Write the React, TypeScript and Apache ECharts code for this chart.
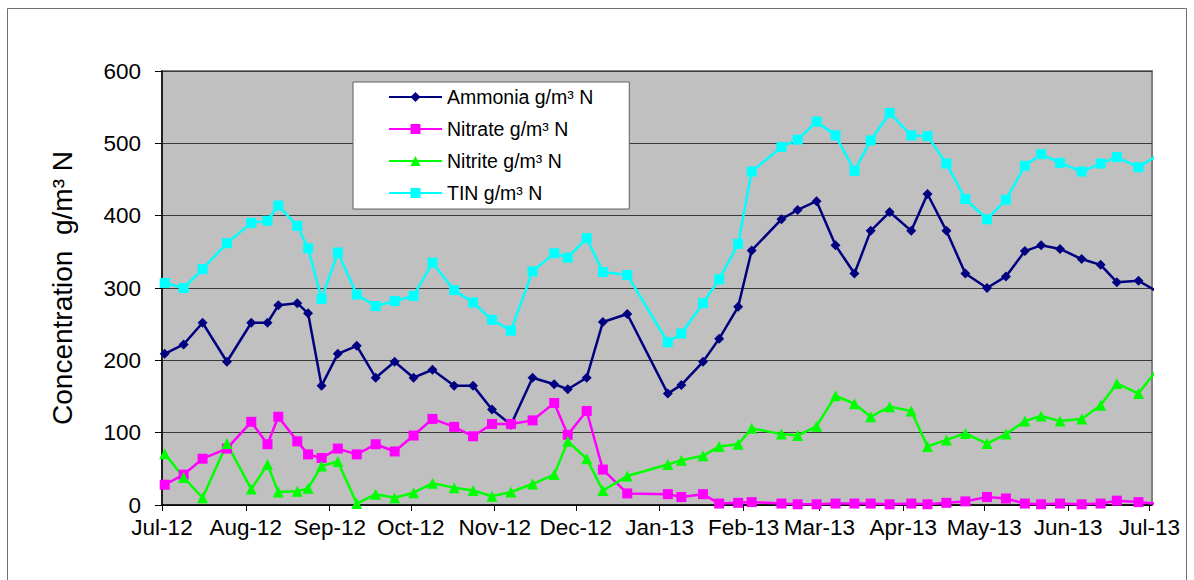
import React, { useEffect, useRef } from "react";
import * as echarts from "echarts";

const dates = [
  "2012-07-02", "2012-07-09", "2012-07-16", "2012-07-25", "2012-08-03", "2012-08-09", "2012-08-13",
  "2012-08-20", "2012-08-24", "2012-08-29", "2012-09-04", "2012-09-11", "2012-09-18", "2012-09-25",
  "2012-10-02", "2012-10-09", "2012-10-17", "2012-10-24", "2012-10-31", "2012-11-07", "2012-11-15",
  "2012-11-23", "2012-11-28", "2012-12-05", "2012-12-11", "2012-12-20", "2013-01-04", "2013-01-09",
  "2013-01-17", "2013-01-23", "2013-01-30", "2013-02-04", "2013-02-15", "2013-02-21", "2013-02-28",
  "2013-03-07", "2013-03-14", "2013-03-20", "2013-03-27", "2013-04-04", "2013-04-10", "2013-04-17",
  "2013-04-24", "2013-05-02", "2013-05-09", "2013-05-16", "2013-05-22", "2013-05-29", "2013-06-06",
  "2013-06-13", "2013-06-19", "2013-06-27", "2013-07-03",
];

const ammonia = [
  209, 222, 252, 198, 252, 252, 276, 279, 265, 165, 209, 220, 176, 198, 176, 187, 165, 165, 132,
  111, 176, 167, 160, 176, 253, 264, 154, 166, 198, 230, 274,
  352, 395, 408, 420, 359, 320, 379, 405, 379, 430, 379,
  320, 300, 316, 351, 359, 354, 340, 332, 308, 310, 297,
];

const nitrate = [
  28, 42, 64, 78, 115, 84, 122, 88, 70, 65, 78, 70, 84, 74, 96, 119, 108, 95, 112,
  112, 117, 141, 97, 130, 49, 16, 15, 11, 15, 2, 3,
  4, 2, 1, 1, 2, 2, 2, 1, 2, 1, 3,
  5, 11, 9, 2, 1, 2, 1, 2, 6, 4, 2,
];

const nitrite = [
  71, 38, 10, 85, 22, 56, 18, 19, 23, 54, 60, 2, 15, 10, 17, 30, 24, 20, 12,
  18, 29, 42, 88, 64, 20, 40, 56, 62, 68, 81, 84,
  106, 98, 96, 109, 151, 140, 122, 136, 130, 81, 90,
  99, 85, 98, 116, 123, 116, 119, 138, 168, 154, 183,
];

const tin = [
  307, 300, 326, 362, 390, 393, 414, 386, 355, 285, 349, 291, 275, 282, 289, 335, 297, 280, 256,
  241, 323, 348, 342, 369, 322, 318, 225, 237, 279, 312, 361,
  461, 495, 505, 530, 511, 462, 504, 542, 511, 510, 472,
  423, 395, 422, 469, 485, 473, 461, 472, 481, 467, 481,
];

const monthStarts = [
  "2012-07-01", "2012-08-01", "2012-09-01", "2012-10-01", "2012-11-01", "2012-12-01", "2013-01-01",
  "2013-02-01", "2013-03-01", "2013-04-01", "2013-05-01", "2013-06-01", "2013-07-01",
];
const monthLabels = [
  "Jul-12", "Aug-12", "Sep-12", "Oct-12", "Nov-12", "Dec-12", "Jan-13",
  "Feb-13", "Mar-13", "Apr-13", "May-13", "Jun-13", "Jul-13",
];
const axisStart = "2012-07-01";
const axisEnd = "2013-07-02";
const yTicks = [0, 100, 200, 300, 400, 500, 600];

const seriesNames = ["Ammonia g/m³ N", "Nitrate g/m³ N", "Nitrite g/m³ N", "TIN g/m³ N"];

function ts(s: string): number {
  const [y, m, d] = s.split("-").map(Number);
  return Date.UTC(y, m - 1, d);
}

const FONT = "'Liberation Sans', Arial, sans-serif";

export default function App() {
  const ref = useRef<HTMLDivElement>(null);
  useEffect(() => {
    if (!ref.current) return;
    const chart = echarts.init(ref.current, null, { renderer: "svg" });
    const monthTs = monthStarts.map(ts);
    const mk = (arr: number[]) => dates.map((d, i) => [ts(d), arr[i]]);
    const styles = [
      { color: "#000080", symbol: "diamond", size: 10 },
      { color: "#FF00FF", symbol: "rect", size: 10 },
      { color: "#00FF00", symbol: "triangle", size: 11 },
      { color: "#00FFFF", symbol: "rect", size: 10 },
    ];
    const values = [ammonia, nitrate, nitrite, tin];
    chart.setOption({
      animation: false,
      grid: {
        left: 162,
        top: 71,
        right: 42,
        bottom: 75,
        show: true,
        backgroundColor: "#C0C0C0",
        borderColor: "#808080",
        borderWidth: 2,
      },
      legend: {
        orient: "vertical",
        left: 353,
        top: 82,
        padding: [4, 36, 5, 35],
        itemWidth: 53,
        itemHeight: 12.5,
        itemGap: 10,
        backgroundColor: "#FFFFFF",
        borderColor: "#606060",
        borderWidth: 1,
        textStyle: { fontSize: 19.5, fontFamily: FONT, color: "#000", lineHeight: 22 },
        data: seriesNames,
      },
      xAxis: {
        type: "value",
        min: ts(axisStart),
        max: ts(axisEnd),
        axisLine: { show: true, onZero: false, lineStyle: { color: "#000", width: 1.5 } },
        axisTick: { show: true, customValues: monthTs, length: 6, lineStyle: { color: "#000", width: 1 } },
        axisLabel: {
          customValues: monthTs,
          formatter: (v: number) => {
            const i = monthTs.indexOf(v);
            return i >= 0 ? monthLabels[i] : "";
          },
          fontSize: 22.5,
          fontFamily: FONT,
          color: "#000",
          margin: 11,
        },
        splitLine: { show: false },
      },
      yAxis: {
        type: "value",
        min: yTicks[0],
        max: yTicks[yTicks.length - 1],
        interval: 100,
        axisLine: { show: true, lineStyle: { color: "#000", width: 1.5 } },
        axisTick: { show: true, length: 7, lineStyle: { color: "#000" } },
        axisLabel: { fontSize: 22.5, fontFamily: FONT, color: "#000", margin: 21 },
        splitLine: { show: true, lineStyle: { color: "#3a3a3a", width: 1 } },
      },
      series: seriesNames.map((name, k) => ({
        name,
        type: "line",
        data: mk(values[k]),
        symbol: styles[k].symbol,
        symbolSize: styles[k].size,
        showAllSymbol: true,
        clip: true,
        lineStyle: { color: styles[k].color, width: 2.5 },
        itemStyle: { color: styles[k].color },
        emphasis: { disabled: true },
      })),
      graphic: [
        {
          type: "rect",
          shape: { x: 7.5, y: 8.5, width: 1179, height: 620 },
          style: { fill: "none", stroke: "#707070", lineWidth: 1 },
          silent: true,
        },
        {
          type: "text",
          x: 62,
          y: 288,
          rotation: Math.PI / 2,
          style: {
            text: "Concentration  g/m³ N",
            font: `28px ${FONT}`,
            fill: "#000",
            textAlign: "center",
            textVerticalAlign: "middle",
          },
          silent: true,
        },
      ],
    });
    return () => chart.dispose();
  }, []);
  return (
    <div
      ref={ref}
      style={{ position: "absolute", left: 0, top: 0, width: 1194, height: 580, background: "#fff" }}
    />
  );
}
